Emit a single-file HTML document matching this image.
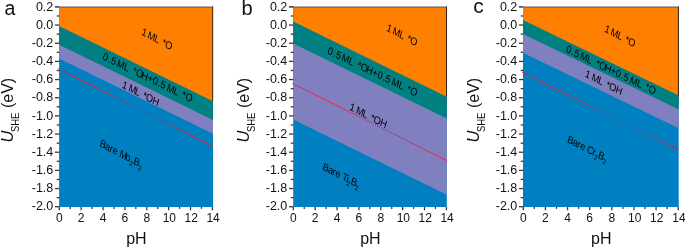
<!DOCTYPE html>
<html><head><meta charset="utf-8"><title>Pourbaix</title>
<style>
html,body{margin:0;padding:0;background:#fff;}
svg{display:block;will-change:transform;font-family:"Liberation Sans",sans-serif;}
</style></head><body>
<svg width="685" height="248" viewBox="0 0 685 248">
<rect width="685" height="248" fill="#fff"/>
<rect x="59.1" y="7.3" width="153.90" height="199.70" fill="#0080c0"/>
<polygon points="59.10,7.30 213.00,7.30 213.00,133.80 59.10,58.60" fill="#8080c0"/>
<polygon points="59.10,7.30 213.00,7.30 213.00,120.00 59.10,44.80" fill="#008080"/>
<polygon points="59.10,7.30 213.00,7.30 213.00,101.30 59.10,26.10" fill="#ff8000"/>
<path d="M55.00,6.9 H212.70" fill="none" stroke="#444" stroke-width="1" opacity="0.7"/>
<path d="M212.70,6.4 V101.30" fill="none" stroke="#2a1a10" stroke-width="1" opacity="0.9"/>
<line x1="58.5" y1="68.60000000000001" x2="213.0" y2="146.4" stroke="#f0102c" stroke-width="1.1" stroke-dasharray="1.15 1.05"/>
<line x1="55.00" y1="6.90" x2="59.30" y2="6.90" stroke="#3a3a3a" stroke-width="1.3"/>
<text x="53.30" y="10.60" font-size="12.5" text-anchor="end" fill="#111">0.2</text>
<line x1="56.70" y1="15.98" x2="59.30" y2="15.98" stroke="#3a3a3a" stroke-width="1.3"/>
<line x1="55.00" y1="25.06" x2="59.30" y2="25.06" stroke="#3a3a3a" stroke-width="1.3"/>
<text x="53.30" y="28.76" font-size="12.5" text-anchor="end" fill="#111">0.0</text>
<line x1="56.70" y1="34.15" x2="59.30" y2="34.15" stroke="#3a3a3a" stroke-width="1.3"/>
<line x1="55.00" y1="43.23" x2="59.30" y2="43.23" stroke="#3a3a3a" stroke-width="1.3"/>
<text x="53.30" y="46.93" font-size="12.5" text-anchor="end" fill="#111">-0.2</text>
<line x1="56.70" y1="52.31" x2="59.30" y2="52.31" stroke="#3a3a3a" stroke-width="1.3"/>
<line x1="55.00" y1="61.39" x2="59.30" y2="61.39" stroke="#3a3a3a" stroke-width="1.3"/>
<text x="53.30" y="65.09" font-size="12.5" text-anchor="end" fill="#111">-0.4</text>
<line x1="56.70" y1="70.48" x2="59.30" y2="70.48" stroke="#3a3a3a" stroke-width="1.3"/>
<line x1="55.00" y1="79.56" x2="59.30" y2="79.56" stroke="#3a3a3a" stroke-width="1.3"/>
<text x="53.30" y="83.26" font-size="12.5" text-anchor="end" fill="#111">-0.6</text>
<line x1="56.70" y1="88.64" x2="59.30" y2="88.64" stroke="#3a3a3a" stroke-width="1.3"/>
<line x1="55.00" y1="97.72" x2="59.30" y2="97.72" stroke="#3a3a3a" stroke-width="1.3"/>
<text x="53.30" y="101.42" font-size="12.5" text-anchor="end" fill="#111">-0.8</text>
<line x1="56.70" y1="106.81" x2="59.30" y2="106.81" stroke="#3a3a3a" stroke-width="1.3"/>
<line x1="55.00" y1="115.89" x2="59.30" y2="115.89" stroke="#3a3a3a" stroke-width="1.3"/>
<text x="53.30" y="119.59" font-size="12.5" text-anchor="end" fill="#111">-1.0</text>
<line x1="56.70" y1="124.97" x2="59.30" y2="124.97" stroke="#3a3a3a" stroke-width="1.3"/>
<line x1="55.00" y1="134.06" x2="59.30" y2="134.06" stroke="#3a3a3a" stroke-width="1.3"/>
<text x="53.30" y="137.75" font-size="12.5" text-anchor="end" fill="#111">-1.2</text>
<line x1="56.70" y1="143.14" x2="59.30" y2="143.14" stroke="#3a3a3a" stroke-width="1.3"/>
<line x1="55.00" y1="152.22" x2="59.30" y2="152.22" stroke="#3a3a3a" stroke-width="1.3"/>
<text x="53.30" y="155.92" font-size="12.5" text-anchor="end" fill="#111">-1.4</text>
<line x1="56.70" y1="161.30" x2="59.30" y2="161.30" stroke="#3a3a3a" stroke-width="1.3"/>
<line x1="55.00" y1="170.38" x2="59.30" y2="170.38" stroke="#3a3a3a" stroke-width="1.3"/>
<text x="53.30" y="174.08" font-size="12.5" text-anchor="end" fill="#111">-1.6</text>
<line x1="56.70" y1="179.47" x2="59.30" y2="179.47" stroke="#3a3a3a" stroke-width="1.3"/>
<line x1="55.00" y1="188.55" x2="59.30" y2="188.55" stroke="#3a3a3a" stroke-width="1.3"/>
<text x="53.30" y="192.25" font-size="12.5" text-anchor="end" fill="#111">-1.8</text>
<line x1="56.70" y1="197.63" x2="59.30" y2="197.63" stroke="#3a3a3a" stroke-width="1.3"/>
<line x1="55.00" y1="206.72" x2="59.30" y2="206.72" stroke="#3a3a3a" stroke-width="1.3"/>
<text x="53.30" y="210.41" font-size="12.5" text-anchor="end" fill="#111">-2.0</text>
<line x1="59.30" y1="207.0" x2="59.30" y2="210.3" stroke="#3a3a3a" stroke-width="1.3"/>
<text x="59.30" y="221.7" font-size="12" text-anchor="middle" fill="#111">0</text>
<line x1="70.24" y1="207.0" x2="70.24" y2="208.9" stroke="#3a3a3a" stroke-width="1.3"/>
<line x1="81.17" y1="207.0" x2="81.17" y2="210.3" stroke="#3a3a3a" stroke-width="1.3"/>
<text x="81.17" y="221.7" font-size="12" text-anchor="middle" fill="#111">2</text>
<line x1="92.11" y1="207.0" x2="92.11" y2="208.9" stroke="#3a3a3a" stroke-width="1.3"/>
<line x1="103.04" y1="207.0" x2="103.04" y2="210.3" stroke="#3a3a3a" stroke-width="1.3"/>
<text x="103.04" y="221.7" font-size="12" text-anchor="middle" fill="#111">4</text>
<line x1="113.98" y1="207.0" x2="113.98" y2="208.9" stroke="#3a3a3a" stroke-width="1.3"/>
<line x1="124.91" y1="207.0" x2="124.91" y2="210.3" stroke="#3a3a3a" stroke-width="1.3"/>
<text x="124.91" y="221.7" font-size="12" text-anchor="middle" fill="#111">6</text>
<line x1="135.85" y1="207.0" x2="135.85" y2="208.9" stroke="#3a3a3a" stroke-width="1.3"/>
<line x1="146.79" y1="207.0" x2="146.79" y2="210.3" stroke="#3a3a3a" stroke-width="1.3"/>
<text x="146.79" y="221.7" font-size="12" text-anchor="middle" fill="#111">8</text>
<line x1="157.72" y1="207.0" x2="157.72" y2="208.9" stroke="#3a3a3a" stroke-width="1.3"/>
<line x1="168.66" y1="207.0" x2="168.66" y2="210.3" stroke="#3a3a3a" stroke-width="1.3"/>
<text x="169.36" y="221.7" font-size="12" text-anchor="middle" fill="#111">10</text>
<line x1="179.59" y1="207.0" x2="179.59" y2="208.9" stroke="#3a3a3a" stroke-width="1.3"/>
<line x1="190.53" y1="207.0" x2="190.53" y2="210.3" stroke="#3a3a3a" stroke-width="1.3"/>
<text x="191.23" y="221.7" font-size="12" text-anchor="middle" fill="#111">12</text>
<line x1="201.46" y1="207.0" x2="201.46" y2="208.9" stroke="#3a3a3a" stroke-width="1.3"/>
<line x1="212.40" y1="207.0" x2="212.40" y2="210.3" stroke="#3a3a3a" stroke-width="1.3"/>
<text x="213.10" y="221.7" font-size="12" text-anchor="middle" fill="#111">14</text>
<text x="136.45" y="243.5" font-size="16" text-anchor="middle" fill="#111">pH</text>
<g transform="translate(13.40,142.6) rotate(-90)" fill="#111"><text x="0" y="0" font-size="16.5" font-style="italic">U</text><text x="10.6" y="5.9" font-size="10.3" textLength="19.4" lengthAdjust="spacingAndGlyphs">SHE</text><text x="34.5" y="0" font-size="16.5" textLength="30.3" lengthAdjust="spacingAndGlyphs">(eV)</text></g>
<text x="4.5" y="14.6" font-size="19.5" fill="#111">a</text>
<rect x="293.2" y="7.3" width="153.60" height="199.70" fill="#0080c0"/>
<polygon points="293.20,7.30 446.80,7.30 446.80,194.70 293.20,119.50" fill="#8080c0"/>
<polygon points="293.20,7.30 446.80,7.30 446.80,118.60 293.20,43.40" fill="#008080"/>
<polygon points="293.20,7.30 446.80,7.30 446.80,96.70 293.20,21.50" fill="#ff8000"/>
<path d="M289.00,6.9 H446.50" fill="none" stroke="#444" stroke-width="1" opacity="0.7"/>
<path d="M446.50,6.4 V96.70" fill="none" stroke="#2a1a10" stroke-width="1" opacity="0.9"/>
<line x1="292.59999999999997" y1="83.4" x2="446.8" y2="160.60000000000002" stroke="#f0102c" stroke-width="1.1" stroke-dasharray="1.15 1.05"/>
<line x1="289.00" y1="6.90" x2="293.40" y2="6.90" stroke="#3a3a3a" stroke-width="1.3"/>
<text x="287.30" y="10.60" font-size="12.5" text-anchor="end" fill="#111">0.2</text>
<line x1="290.70" y1="15.98" x2="293.40" y2="15.98" stroke="#3a3a3a" stroke-width="1.3"/>
<line x1="289.00" y1="25.06" x2="293.40" y2="25.06" stroke="#3a3a3a" stroke-width="1.3"/>
<text x="287.30" y="28.76" font-size="12.5" text-anchor="end" fill="#111">0.0</text>
<line x1="290.70" y1="34.15" x2="293.40" y2="34.15" stroke="#3a3a3a" stroke-width="1.3"/>
<line x1="289.00" y1="43.23" x2="293.40" y2="43.23" stroke="#3a3a3a" stroke-width="1.3"/>
<text x="287.30" y="46.93" font-size="12.5" text-anchor="end" fill="#111">-0.2</text>
<line x1="290.70" y1="52.31" x2="293.40" y2="52.31" stroke="#3a3a3a" stroke-width="1.3"/>
<line x1="289.00" y1="61.39" x2="293.40" y2="61.39" stroke="#3a3a3a" stroke-width="1.3"/>
<text x="287.30" y="65.09" font-size="12.5" text-anchor="end" fill="#111">-0.4</text>
<line x1="290.70" y1="70.48" x2="293.40" y2="70.48" stroke="#3a3a3a" stroke-width="1.3"/>
<line x1="289.00" y1="79.56" x2="293.40" y2="79.56" stroke="#3a3a3a" stroke-width="1.3"/>
<text x="287.30" y="83.26" font-size="12.5" text-anchor="end" fill="#111">-0.6</text>
<line x1="290.70" y1="88.64" x2="293.40" y2="88.64" stroke="#3a3a3a" stroke-width="1.3"/>
<line x1="289.00" y1="97.72" x2="293.40" y2="97.72" stroke="#3a3a3a" stroke-width="1.3"/>
<text x="287.30" y="101.42" font-size="12.5" text-anchor="end" fill="#111">-0.8</text>
<line x1="290.70" y1="106.81" x2="293.40" y2="106.81" stroke="#3a3a3a" stroke-width="1.3"/>
<line x1="289.00" y1="115.89" x2="293.40" y2="115.89" stroke="#3a3a3a" stroke-width="1.3"/>
<text x="287.30" y="119.59" font-size="12.5" text-anchor="end" fill="#111">-1.0</text>
<line x1="290.70" y1="124.97" x2="293.40" y2="124.97" stroke="#3a3a3a" stroke-width="1.3"/>
<line x1="289.00" y1="134.06" x2="293.40" y2="134.06" stroke="#3a3a3a" stroke-width="1.3"/>
<text x="287.30" y="137.75" font-size="12.5" text-anchor="end" fill="#111">-1.2</text>
<line x1="290.70" y1="143.14" x2="293.40" y2="143.14" stroke="#3a3a3a" stroke-width="1.3"/>
<line x1="289.00" y1="152.22" x2="293.40" y2="152.22" stroke="#3a3a3a" stroke-width="1.3"/>
<text x="287.30" y="155.92" font-size="12.5" text-anchor="end" fill="#111">-1.4</text>
<line x1="290.70" y1="161.30" x2="293.40" y2="161.30" stroke="#3a3a3a" stroke-width="1.3"/>
<line x1="289.00" y1="170.38" x2="293.40" y2="170.38" stroke="#3a3a3a" stroke-width="1.3"/>
<text x="287.30" y="174.08" font-size="12.5" text-anchor="end" fill="#111">-1.6</text>
<line x1="290.70" y1="179.47" x2="293.40" y2="179.47" stroke="#3a3a3a" stroke-width="1.3"/>
<line x1="289.00" y1="188.55" x2="293.40" y2="188.55" stroke="#3a3a3a" stroke-width="1.3"/>
<text x="287.30" y="192.25" font-size="12.5" text-anchor="end" fill="#111">-1.8</text>
<line x1="290.70" y1="197.63" x2="293.40" y2="197.63" stroke="#3a3a3a" stroke-width="1.3"/>
<line x1="289.00" y1="206.72" x2="293.40" y2="206.72" stroke="#3a3a3a" stroke-width="1.3"/>
<text x="287.30" y="210.41" font-size="12.5" text-anchor="end" fill="#111">-2.0</text>
<line x1="293.30" y1="207.0" x2="293.30" y2="210.3" stroke="#3a3a3a" stroke-width="1.3"/>
<text x="293.30" y="221.7" font-size="12" text-anchor="middle" fill="#111">0</text>
<line x1="304.24" y1="207.0" x2="304.24" y2="208.9" stroke="#3a3a3a" stroke-width="1.3"/>
<line x1="315.17" y1="207.0" x2="315.17" y2="210.3" stroke="#3a3a3a" stroke-width="1.3"/>
<text x="315.17" y="221.7" font-size="12" text-anchor="middle" fill="#111">2</text>
<line x1="326.11" y1="207.0" x2="326.11" y2="208.9" stroke="#3a3a3a" stroke-width="1.3"/>
<line x1="337.04" y1="207.0" x2="337.04" y2="210.3" stroke="#3a3a3a" stroke-width="1.3"/>
<text x="337.04" y="221.7" font-size="12" text-anchor="middle" fill="#111">4</text>
<line x1="347.98" y1="207.0" x2="347.98" y2="208.9" stroke="#3a3a3a" stroke-width="1.3"/>
<line x1="358.91" y1="207.0" x2="358.91" y2="210.3" stroke="#3a3a3a" stroke-width="1.3"/>
<text x="358.91" y="221.7" font-size="12" text-anchor="middle" fill="#111">6</text>
<line x1="369.85" y1="207.0" x2="369.85" y2="208.9" stroke="#3a3a3a" stroke-width="1.3"/>
<line x1="380.79" y1="207.0" x2="380.79" y2="210.3" stroke="#3a3a3a" stroke-width="1.3"/>
<text x="380.79" y="221.7" font-size="12" text-anchor="middle" fill="#111">8</text>
<line x1="391.72" y1="207.0" x2="391.72" y2="208.9" stroke="#3a3a3a" stroke-width="1.3"/>
<line x1="402.66" y1="207.0" x2="402.66" y2="210.3" stroke="#3a3a3a" stroke-width="1.3"/>
<text x="403.36" y="221.7" font-size="12" text-anchor="middle" fill="#111">10</text>
<line x1="413.59" y1="207.0" x2="413.59" y2="208.9" stroke="#3a3a3a" stroke-width="1.3"/>
<line x1="424.53" y1="207.0" x2="424.53" y2="210.3" stroke="#3a3a3a" stroke-width="1.3"/>
<text x="425.23" y="221.7" font-size="12" text-anchor="middle" fill="#111">12</text>
<line x1="435.46" y1="207.0" x2="435.46" y2="208.9" stroke="#3a3a3a" stroke-width="1.3"/>
<line x1="446.40" y1="207.0" x2="446.40" y2="210.3" stroke="#3a3a3a" stroke-width="1.3"/>
<text x="447.10" y="221.7" font-size="12" text-anchor="middle" fill="#111">14</text>
<text x="370.40" y="243.5" font-size="16" text-anchor="middle" fill="#111">pH</text>
<g transform="translate(248.90,142.6) rotate(-90)" fill="#111"><text x="0" y="0" font-size="16.5" font-style="italic">U</text><text x="10.6" y="5.9" font-size="10.3" textLength="19.4" lengthAdjust="spacingAndGlyphs">SHE</text><text x="34.5" y="0" font-size="16.5" textLength="30.3" lengthAdjust="spacingAndGlyphs">(eV)</text></g>
<text x="241.5" y="14.6" font-size="20" fill="#111">b</text>
<rect x="523.0" y="7.3" width="155.70" height="199.70" fill="#0080c0"/>
<polygon points="523.00,7.30 678.70,7.30 678.70,128.20 523.00,52.80" fill="#8080c0"/>
<polygon points="523.00,7.30 678.70,7.30 678.70,109.50 523.00,34.10" fill="#008080"/>
<polygon points="523.00,7.30 678.70,7.30 678.70,95.50 523.00,20.10" fill="#ff8000"/>
<path d="M519.00,6.9 H678.40" fill="none" stroke="#444" stroke-width="1" opacity="0.7"/>
<path d="M678.40,6.4 V95.50" fill="none" stroke="#2a1a10" stroke-width="1" opacity="0.9"/>
<line x1="522.4" y1="72.25" x2="678.7" y2="149.55" stroke="#f0102c" stroke-width="1.1" stroke-dasharray="1.15 1.05"/>
<line x1="519.00" y1="6.90" x2="523.20" y2="6.90" stroke="#3a3a3a" stroke-width="1.3"/>
<text x="517.30" y="10.60" font-size="12.5" text-anchor="end" fill="#111">0.2</text>
<line x1="520.70" y1="15.98" x2="523.20" y2="15.98" stroke="#3a3a3a" stroke-width="1.3"/>
<line x1="519.00" y1="25.06" x2="523.20" y2="25.06" stroke="#3a3a3a" stroke-width="1.3"/>
<text x="517.30" y="28.76" font-size="12.5" text-anchor="end" fill="#111">0.0</text>
<line x1="520.70" y1="34.15" x2="523.20" y2="34.15" stroke="#3a3a3a" stroke-width="1.3"/>
<line x1="519.00" y1="43.23" x2="523.20" y2="43.23" stroke="#3a3a3a" stroke-width="1.3"/>
<text x="517.30" y="46.93" font-size="12.5" text-anchor="end" fill="#111">-0.2</text>
<line x1="520.70" y1="52.31" x2="523.20" y2="52.31" stroke="#3a3a3a" stroke-width="1.3"/>
<line x1="519.00" y1="61.39" x2="523.20" y2="61.39" stroke="#3a3a3a" stroke-width="1.3"/>
<text x="517.30" y="65.09" font-size="12.5" text-anchor="end" fill="#111">-0.4</text>
<line x1="520.70" y1="70.48" x2="523.20" y2="70.48" stroke="#3a3a3a" stroke-width="1.3"/>
<line x1="519.00" y1="79.56" x2="523.20" y2="79.56" stroke="#3a3a3a" stroke-width="1.3"/>
<text x="517.30" y="83.26" font-size="12.5" text-anchor="end" fill="#111">-0.6</text>
<line x1="520.70" y1="88.64" x2="523.20" y2="88.64" stroke="#3a3a3a" stroke-width="1.3"/>
<line x1="519.00" y1="97.72" x2="523.20" y2="97.72" stroke="#3a3a3a" stroke-width="1.3"/>
<text x="517.30" y="101.42" font-size="12.5" text-anchor="end" fill="#111">-0.8</text>
<line x1="520.70" y1="106.81" x2="523.20" y2="106.81" stroke="#3a3a3a" stroke-width="1.3"/>
<line x1="519.00" y1="115.89" x2="523.20" y2="115.89" stroke="#3a3a3a" stroke-width="1.3"/>
<text x="517.30" y="119.59" font-size="12.5" text-anchor="end" fill="#111">-1.0</text>
<line x1="520.70" y1="124.97" x2="523.20" y2="124.97" stroke="#3a3a3a" stroke-width="1.3"/>
<line x1="519.00" y1="134.06" x2="523.20" y2="134.06" stroke="#3a3a3a" stroke-width="1.3"/>
<text x="517.30" y="137.75" font-size="12.5" text-anchor="end" fill="#111">-1.2</text>
<line x1="520.70" y1="143.14" x2="523.20" y2="143.14" stroke="#3a3a3a" stroke-width="1.3"/>
<line x1="519.00" y1="152.22" x2="523.20" y2="152.22" stroke="#3a3a3a" stroke-width="1.3"/>
<text x="517.30" y="155.92" font-size="12.5" text-anchor="end" fill="#111">-1.4</text>
<line x1="520.70" y1="161.30" x2="523.20" y2="161.30" stroke="#3a3a3a" stroke-width="1.3"/>
<line x1="519.00" y1="170.38" x2="523.20" y2="170.38" stroke="#3a3a3a" stroke-width="1.3"/>
<text x="517.30" y="174.08" font-size="12.5" text-anchor="end" fill="#111">-1.6</text>
<line x1="520.70" y1="179.47" x2="523.20" y2="179.47" stroke="#3a3a3a" stroke-width="1.3"/>
<line x1="519.00" y1="188.55" x2="523.20" y2="188.55" stroke="#3a3a3a" stroke-width="1.3"/>
<text x="517.30" y="192.25" font-size="12.5" text-anchor="end" fill="#111">-1.8</text>
<line x1="520.70" y1="197.63" x2="523.20" y2="197.63" stroke="#3a3a3a" stroke-width="1.3"/>
<line x1="519.00" y1="206.72" x2="523.20" y2="206.72" stroke="#3a3a3a" stroke-width="1.3"/>
<text x="517.30" y="210.41" font-size="12.5" text-anchor="end" fill="#111">-2.0</text>
<line x1="523.30" y1="207.0" x2="523.30" y2="210.3" stroke="#3a3a3a" stroke-width="1.3"/>
<text x="523.30" y="221.7" font-size="12" text-anchor="middle" fill="#111">0</text>
<line x1="534.36" y1="207.0" x2="534.36" y2="208.9" stroke="#3a3a3a" stroke-width="1.3"/>
<line x1="545.43" y1="207.0" x2="545.43" y2="210.3" stroke="#3a3a3a" stroke-width="1.3"/>
<text x="545.43" y="221.7" font-size="12" text-anchor="middle" fill="#111">2</text>
<line x1="556.49" y1="207.0" x2="556.49" y2="208.9" stroke="#3a3a3a" stroke-width="1.3"/>
<line x1="567.56" y1="207.0" x2="567.56" y2="210.3" stroke="#3a3a3a" stroke-width="1.3"/>
<text x="567.56" y="221.7" font-size="12" text-anchor="middle" fill="#111">4</text>
<line x1="578.62" y1="207.0" x2="578.62" y2="208.9" stroke="#3a3a3a" stroke-width="1.3"/>
<line x1="589.69" y1="207.0" x2="589.69" y2="210.3" stroke="#3a3a3a" stroke-width="1.3"/>
<text x="589.69" y="221.7" font-size="12" text-anchor="middle" fill="#111">6</text>
<line x1="600.75" y1="207.0" x2="600.75" y2="208.9" stroke="#3a3a3a" stroke-width="1.3"/>
<line x1="611.81" y1="207.0" x2="611.81" y2="210.3" stroke="#3a3a3a" stroke-width="1.3"/>
<text x="611.81" y="221.7" font-size="12" text-anchor="middle" fill="#111">8</text>
<line x1="622.88" y1="207.0" x2="622.88" y2="208.9" stroke="#3a3a3a" stroke-width="1.3"/>
<line x1="633.94" y1="207.0" x2="633.94" y2="210.3" stroke="#3a3a3a" stroke-width="1.3"/>
<text x="634.64" y="221.7" font-size="12" text-anchor="middle" fill="#111">10</text>
<line x1="645.01" y1="207.0" x2="645.01" y2="208.9" stroke="#3a3a3a" stroke-width="1.3"/>
<line x1="656.07" y1="207.0" x2="656.07" y2="210.3" stroke="#3a3a3a" stroke-width="1.3"/>
<text x="656.77" y="221.7" font-size="12" text-anchor="middle" fill="#111">12</text>
<line x1="667.14" y1="207.0" x2="667.14" y2="208.9" stroke="#3a3a3a" stroke-width="1.3"/>
<line x1="678.20" y1="207.0" x2="678.20" y2="210.3" stroke="#3a3a3a" stroke-width="1.3"/>
<text x="678.90" y="221.7" font-size="12" text-anchor="middle" fill="#111">14</text>
<text x="601.25" y="243.5" font-size="16" text-anchor="middle" fill="#111">pH</text>
<g transform="translate(478.90,142.6) rotate(-90)" fill="#111"><text x="0" y="0" font-size="16.5" font-style="italic">U</text><text x="10.6" y="5.9" font-size="10.3" textLength="19.4" lengthAdjust="spacingAndGlyphs">SHE</text><text x="34.5" y="0" font-size="16.5" textLength="30.3" lengthAdjust="spacingAndGlyphs">(eV)</text></g>
<text x="473.2" y="13.1" font-size="21" fill="#111">c</text>
<text transform="matrix(0.7770,0.4062,-0.27,0.92,140.90,34.50)" font-size="11" fill="#000" dx="0.00 0.00 -1.16 -0.64 0.00 1.16 -0.26">1 ML *O</text>
<text transform="matrix(0.7770,0.3756,-0.27,0.92,102.30,59.30)" font-size="11" fill="#000" dx="0.00 0.71 0.45 0.00 -1.54 -0.26 0.00 2.57 0.00 -1.54 0.00 0.00 0.32 0.45 0.00 -0.77 -0.26 0.00 1.80 0.26">0.5 ML *OH+0.5 ML *O</text>
<text transform="matrix(0.7770,0.4028,-0.27,0.92,121.40,87.40)" font-size="11" fill="#000" dx="0.00 0.00 -0.77 -0.90 0.00 1.54 -0.51 -0.19">1 ML *OH</text>
<text transform="matrix(0.7770,0.4097,-0.27,0.92,99.30,146.10)" font-size="11" fill="#000" dx="0.00 -0.51 -0.39 0.00 0.00 -0.26 -1.42 0.39 0.00 0.00">Bare Mo<tspan font-size="7" dy="3">2</tspan><tspan dy="-3">B</tspan><tspan font-size="7" dy="3">2</tspan></text>
<text transform="matrix(0.7770,0.4062,-0.27,0.92,385.90,30.50)" font-size="11" fill="#000" dx="0.00 0.00 -1.16 -0.64 0.00 1.16 -0.26">1 ML *O</text>
<text transform="matrix(0.7770,0.3756,-0.27,0.92,327.10,53.60)" font-size="11" fill="#000" dx="0.00 0.71 0.45 0.00 -1.54 -0.26 0.00 2.57 0.00 -1.54 0.00 0.00 0.32 0.45 0.00 -0.77 -0.26 0.00 1.80 0.26">0.5 ML *OH+0.5 ML *O</text>
<text transform="matrix(0.7770,0.4028,-0.27,0.92,349.10,109.60)" font-size="11" fill="#000" dx="0.00 0.00 -0.77 -0.90 0.00 1.54 -0.51 -0.19">1 ML *OH</text>
<text transform="matrix(0.7770,0.3993,-0.27,0.92,322.10,169.60)" font-size="11" fill="#000" dx="0.00 -0.51 -0.39 0.00 0.00 -0.26 -0.77 -1.03 0.39 -0.77">Bare Ti<tspan font-size="7" dy="3">2</tspan><tspan dy="-3">B</tspan><tspan font-size="7" dy="3">2</tspan></text>
<text transform="matrix(0.7770,0.4062,-0.27,0.92,603.90,31.50)" font-size="11" fill="#000" dx="0.00 0.00 -1.16 -0.64 0.00 1.16 -0.26">1 ML *O</text>
<text transform="matrix(0.7770,0.3756,-0.27,0.92,565.50,51.80)" font-size="11" fill="#000" dx="0.00 0.71 0.45 0.00 -1.54 -0.26 0.00 2.57 0.00 -1.54 0.00 0.00 0.32 0.45 0.00 -0.77 -0.26 0.00 1.80 0.26">0.5 ML *OH+0.5 ML *O</text>
<text transform="matrix(0.7770,0.4028,-0.27,0.92,584.60,76.60)" font-size="11" fill="#000" dx="0.00 0.00 -0.77 -0.90 0.00 1.54 -0.51 -0.19">1 ML *OH</text>
<text transform="matrix(0.7770,0.3993,-0.27,0.92,566.80,142.00)" font-size="11" fill="#000" dx="0.00 -0.51 -0.39 0.00 0.00 -0.26 -1.03 -0.39 0.39 -0.39">Bare Cr<tspan font-size="7" dy="3">2</tspan><tspan dy="-3">B</tspan><tspan font-size="7" dy="3">2</tspan></text>
</svg></body></html>
